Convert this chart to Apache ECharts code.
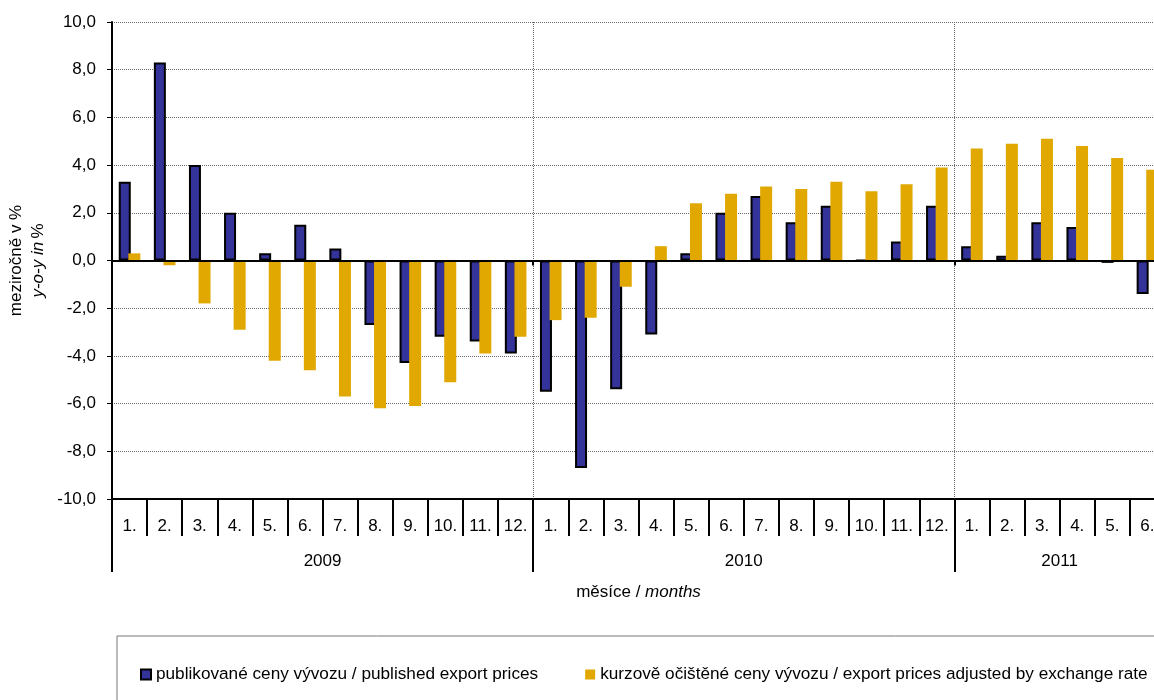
<!DOCTYPE html>
<html>
<head>
<meta charset="utf-8">
<title>ceny vývozu</title>
<script src="https://cdn.jsdelivr.net/npm/echarts@6.0.0/dist/echarts.min.js"></script>
<style>
  html, body { margin: 0; padding: 0; background: #ffffff; }
  #main { width: 1154px; height: 700px; }
</style>
</head>
<body>
<div id="main"></div>
<script>
// data
var monthLabels = ["1.", "2.", "3.", "4.", "5.", "6.", "7.", "8.", "9.", "10.", "11.", "12.",
                   "1.", "2.", "3.", "4.", "5.", "6.", "7.", "8.", "9.", "10.", "11.", "12.",
                   "1.", "2.", "3.", "4.", "5.", "6."];
var years = ["2009", "2010", "2011"];
var monthsInYear = [12, 12, 6];
var published = [3.3, 8.3, 4.0, 2.0, 0.3, 1.5, 0.5, -2.7, -4.3, -3.2, -3.4, -3.9,
                 -5.5, -8.7, -5.4, -3.1, 0.3, 2.0, 2.7, 1.6, 2.3, 0.0, 0.8, 2.3,
                 0.6, 0.2, 1.6, 1.4, -0.1, -1.4];
var adjusted = [0.3, -0.2, -1.8, -2.9, -4.2, -4.6, -5.7, -6.2, -6.1, -5.1, -3.9, -3.2,
                -2.5, -2.4, -1.1, 0.6, 2.4, 2.8, 3.1, 3.0, 3.3, 2.9, 3.2, 3.9,
                4.7, 4.9, 5.1, 4.8, 4.3, 3.8];
var seriesNames = ["publikované ceny vývozu / published export prices",
                   "kurzově očištěné ceny vývozu / export prices adjusted by exchange rate"];

// year row: one entry per month, remember where each year starts and its middle
var yearAxisData = [];
var yearStarts = {};
var yearMiddles = {};
years.forEach(function (y, k) {
  yearStarts[yearAxisData.length] = true;
  yearMiddles[yearAxisData.length + monthsInYear[k] / 2 - 1] = true;
  for (var i = 0; i < monthsInYear[k]; i++) yearAxisData.push(y);
});

var font = "Liberation Sans, Arial, sans-serif";
var black = "#000000";
var gridGray = "#6a6a6a";

var myChart = echarts.init(document.getElementById("main"));

let option = {
  animation: false,
  textStyle: { fontFamily: font },
  grid: { left: 112, top: 22, width: 1053, height: 477, outerBoundsMode: "none", containLabel: false },
  legend: {
    left: 117,
    top: 636,
    width: 1080,
    padding: [30, 40, 40, 23],
    itemGap: 47,
    itemWidth: 10,
    itemHeight: 10,
    icon: "rect",
    borderColor: "#777777",
    borderWidth: 1,
    textStyle: { fontSize: 17.2, color: black, fontFamily: font },
    data: seriesNames
  },
  xAxis: [
    {
      // months
      type: "category",
      data: monthLabels,
      position: "bottom",
      axisLine: { show: true, onZero: false, lineStyle: { color: black, width: 2 } },
      axisTick: { show: true, length: 37, lineStyle: { color: black, width: 2 } },
      axisLabel: { margin: 19, color: black, fontSize: 17, fontFamily: font },
      splitLine: { show: false },
      name: "{n|měsíce / }{i|months}",
      nameLocation: "middle",
      nameGap: 85,
      nameTextStyle: {
        rich: {
          n: { fontSize: 17, color: black, fontFamily: font },
          i: { fontSize: 17, color: black, fontFamily: font, fontStyle: "italic" }
        }
      }
    },
    {
      // years
      type: "category",
      data: yearAxisData,
      position: "bottom",
      axisLine: { show: false, onZero: false },
      axisTick: {
        show: true,
        length: 73,
        interval: function (i) { return !!yearStarts[i]; },
        lineStyle: { color: black, width: 2 }
      },
      axisLabel: {
        margin: 54,
        color: black,
        fontSize: 17,
        fontFamily: font,
        padding: [0, 0, 0, 35],
        interval: function (i) { return !!yearMiddles[i]; }
      },
      splitLine: {
        show: true,
        interval: function (i) { return !!yearStarts[i]; },
        lineStyle: { color: gridGray, type: "dotted", width: 1 }
      }
    },
    {
      // zero line
      type: "category",
      data: monthLabels,
      position: "bottom",
      z: 3,
      axisLine: { show: true, onZero: true, lineStyle: { color: black, width: 2 } },
      axisTick: {
        show: true,
        length: 5,
        interval: function (i) { return !!yearStarts[i] && i > 0; },
        lineStyle: { color: black, width: 2 }
      },
      axisLabel: { show: false },
      splitLine: { show: false }
    }
  ],
  yAxis: {
    type: "value",
    min: -10,
    max: 10,
    interval: 2,
    axisLine: { show: true, lineStyle: { color: black, width: 2 } },
    axisTick: { show: true, length: 5, lineStyle: { color: black, width: 1 } },
    axisLabel: {
      margin: 16,
      color: black,
      fontSize: 17,
      fontFamily: font,
      formatter: function (v) { return v.toFixed(1).replace(".", ","); }
    },
    splitLine: { lineStyle: { color: gridGray, type: "dotted", width: 1 } },
    name: "{a|meziročně v %}\n{b|y-o-y in} {a|%}",
    nameLocation: "middle",
    nameGap: 63,
    nameTextStyle: {
      rich: {
        a: { fontSize: 17, color: black, fontFamily: font, lineHeight: 22 },
        b: { fontSize: 17, color: black, fontFamily: font, lineHeight: 22, fontStyle: "italic" }
      }
    }
  },
  series: [
    {
      name: seriesNames[0],
      type: "bar",
      xAxisIndex: 0,
      data: published,
      barWidth: 12,
      barGap: "-20%",
      itemStyle: { color: "#333399", borderColor: black, borderWidth: 2 }
    },
    {
      name: seriesNames[1],
      type: "bar",
      xAxisIndex: 0,
      data: adjusted,
      barWidth: 12,
      barGap: "-20%",
      itemStyle: { color: "#E0A800" }
    }
  ]
};

myChart.setOption(option);
</script>
</body>
</html>
